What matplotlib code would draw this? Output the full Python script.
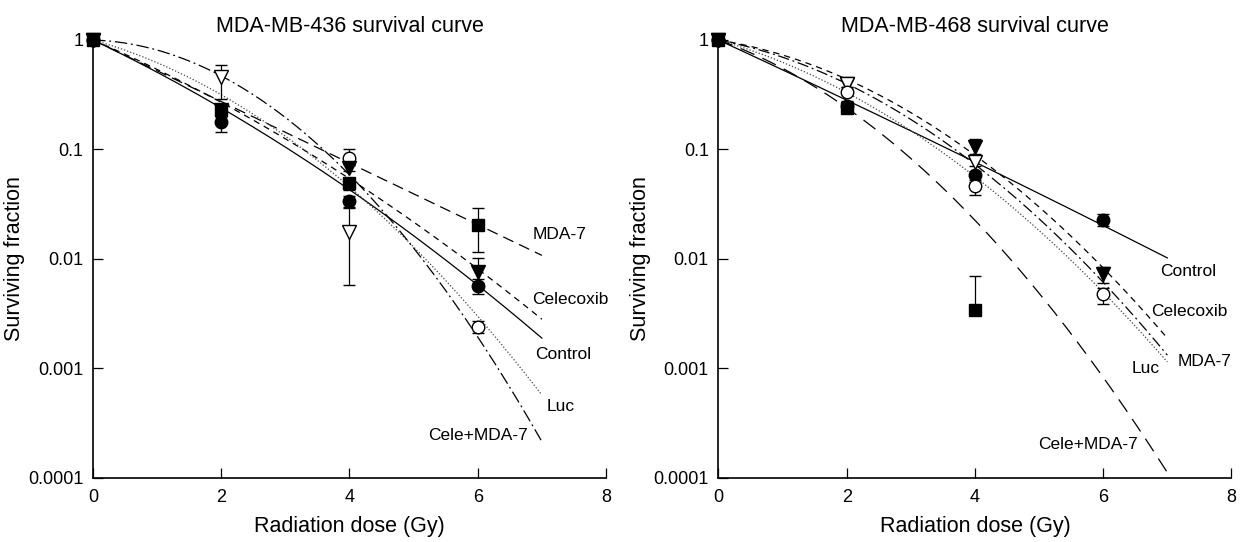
# radiation survival curves of two breast cancer cell lines
import numpy as np
import matplotlib.pyplot as plt

plt.rcParams['font.family'] = ['Liberation Sans', 'DejaVu Sans']

# --- data ---
# MDA-MB-436 (left panel): measured surviving fractions, errors as (lower, upper)
l_control_x = [0, 2, 4, 6]
l_control_y = [1.0, 0.178, 0.034, 0.0057]
l_control_lo = [0.0, 0.033, 0.004, 0.0009]
l_control_hi = [0.0, 0.02, 0.004, 0.0009]
l_mda7_x = [0, 2, 4, 6]
l_mda7_y = [1.0, 0.23, 0.049, 0.0205]
l_mda7_lo = [0.0, 0.02, 0.006, 0.009]
l_mda7_hi = [0.0, 0.02, 0.006, 0.0085]
l_cele_x = [0, 2, 4, 6]
l_cele_y = [1.0, 0.23, 0.068, 0.0076]
l_cele_lo = [0.0, 0.02, 0.005, 0.0015]
l_cele_hi = [0.0, 0.02, 0.005, 0.0027]
l_luc_x = [0, 4, 6]
l_luc_y = [1.0, 0.083, 0.0024]
l_luc_lo = [0.0, 0.01, 0.0003]
l_luc_hi = [0.0, 0.017, 0.0003]
l_combo_x = [0, 2, 4]
l_combo_y = [1.0, 0.46, 0.0175]
l_combo_lo = [0.0, 0.17, 0.0117]
l_combo_hi = [0.0, 0.13, 0.0117]

# MDA-MB-468 (right panel)
r_control_x = [0, 2, 4, 6]
r_control_y = [1.0, 0.25, 0.058, 0.0227]
r_control_lo = [0.0, 0.02, 0.005, 0.0025]
r_control_hi = [0.0, 0.02, 0.005, 0.0033]
r_cele_x = [0, 2, 4, 6]
r_cele_y = [1.0, 0.40, 0.106, 0.0073]
r_cele_lo = [0.0, 0.03, 0.015, 0.0012]
r_cele_hi = [0.0, 0.03, 0.02, 0.0012]
r_mda7_x = [0, 2, 4]
r_mda7_y = [1.0, 0.40, 0.077]
r_mda7_lo = [0.0, 0.03, 0.006]
r_mda7_hi = [0.0, 0.03, 0.006]
r_luc_x = [0, 2, 4, 6]
r_luc_y = [1.0, 0.337, 0.046, 0.0048]
r_luc_lo = [0.0, 0.02, 0.0075, 0.0009]
r_luc_hi = [0.0, 0.02, 0.005, 0.0006]
r_combo_x = [0, 2, 4]
r_combo_y = [1.0, 0.24, 0.0034]
r_combo_lo = [0.0, 0.02, 0.0]
r_combo_hi = [0.0, 0.04, 0.0036]

# fitted linear-quadratic curves, log10(SF) = -(a*D + b*D^2)
curve_names = ['Control', 'MDA-7', 'Celecoxib', 'Luc', 'Cele+MDA-7']
l_alpha = [0.279, 0.281, 0.253, 0.165, 0.020]
l_beta = [0.0157, 0.0, 0.0159, 0.0426, 0.072]
r_alpha = [0.271, 0.115, 0.095, 0.168, 0.208]
r_beta = [0.0019, 0.0423, 0.042, 0.036, 0.0509]
d_max = 7

# curve labels (left edge, vertical centre, in data units)
l_label_x = [6.9, 6.85, 6.85, 7.08, 5.23]
l_label_y = [0.00134, 0.0166, 0.0043, 0.00045, 0.000245]
r_label_x = [6.88, 7.16, 6.74, 6.44, 4.98]
r_label_y = [0.0077, 0.00115, 0.00335, 0.001, 0.000204]

# line styles per curve name
l_styles = {'Control': '-', 'MDA-7': (0, (9, 5)), 'Celecoxib': (0, (5, 4)),
            'Luc': (0, (1, 1.6)), 'Cele+MDA-7': (0, (10, 3, 1.5, 3))}
r_styles = {'Control': '-', 'MDA-7': (0, (9, 3, 1.5, 3)), 'Celecoxib': (0, (5, 4)),
            'Luc': (0, (1, 1.6)), 'Cele+MDA-7': (0, (12, 7))}


def draw_points(ax, x, y, lo, hi, marker, filled, ms=9):
    face = 'black' if filled else 'white'
    ax.errorbar(x, y, yerr=[lo, hi], fmt=marker, ms=ms, mfc=face, mec='black',
                mew=1, ecolor='black', elinewidth=0.9, capsize=4.5,
                capthick=0.9, clip_on=False, zorder=5)


def style_axes(ax, title):
    ax.set_yscale('log')
    ax.set_xlim(0, 8)
    ax.set_ylim(1e-4, 1)
    ax.set_yticks([1, 0.1, 0.01, 0.001, 0.0001])
    ax.set_yticklabels(['1', '0.1', '0.01', '0.001', '0.0001'])
    ax.minorticks_off()
    ax.set_xticks([0, 2, 4, 6, 8])
    ax.tick_params(direction='in', length=7, width=0.9, labelsize=13)
    ax.tick_params(axis='y', pad=7)
    ax.tick_params(axis='x', pad=8)
    for s in ['top', 'right']:
        ax.spines[s].set_visible(False)
    for s in ['left', 'bottom']:
        ax.spines[s].set_linewidth(1.2)
    ax.set_title(title, fontsize=15.5, pad=6)
    ax.set_xlabel('Radiation dose (Gy)', fontsize=15.5, labelpad=7)
    ax.set_ylabel('Surviving fraction', fontsize=15.5, labelpad=2)


def draw_curves(ax, alpha, beta, styles, lab_x, lab_y):
    d = np.linspace(0, d_max, 300)
    for i, name in enumerate(curve_names):
        sf = 10 ** (-(alpha[i] * d + beta[i] * d ** 2))
        color = '#444444' if name == 'Luc' else 'black'
        ax.plot(d, sf, ls=styles[name], color=color, lw=0.9, zorder=3)
        ax.text(lab_x[i], lab_y[i], name, fontsize=12.5, va='center', ha='left')


fig = plt.figure(figsize=(12.42, 5.42), dpi=100)
ax1 = fig.add_axes([0.0749, 0.1181, 0.4130, 0.8081])
ax2 = fig.add_axes([0.5785, 0.1181, 0.4130, 0.8081])

# left panel
draw_curves(ax1, l_alpha, l_beta, l_styles, l_label_x, l_label_y)
draw_points(ax1, l_combo_x, l_combo_y, l_combo_lo, l_combo_hi, 'v', False, 10)
draw_points(ax1, l_luc_x, l_luc_y, l_luc_lo, l_luc_hi, 'o', False)
draw_points(ax1, l_cele_x, l_cele_y, l_cele_lo, l_cele_hi, 'v', True, 10)
draw_points(ax1, l_control_x, l_control_y, l_control_lo, l_control_hi, 'o', True)
draw_points(ax1, l_mda7_x, l_mda7_y, l_mda7_lo, l_mda7_hi, 's', True)
style_axes(ax1, 'MDA-MB-436 survival curve')

# right panel
draw_curves(ax2, r_alpha, r_beta, r_styles, r_label_x, r_label_y)
draw_points(ax2, r_cele_x, r_cele_y, r_cele_lo, r_cele_hi, 'v', True, 10)
draw_points(ax2, r_mda7_x, r_mda7_y, r_mda7_lo, r_mda7_hi, 'v', False, 10)
draw_points(ax2, r_control_x, r_control_y, r_control_lo, r_control_hi, 'o', True)
draw_points(ax2, r_luc_x, r_luc_y, r_luc_lo, r_luc_hi, 'o', False)
draw_points(ax2, r_combo_x, r_combo_y, r_combo_lo, r_combo_hi, 's', True)
style_axes(ax2, 'MDA-MB-468 survival curve')

plt.savefig('out.png', dpi=100)
